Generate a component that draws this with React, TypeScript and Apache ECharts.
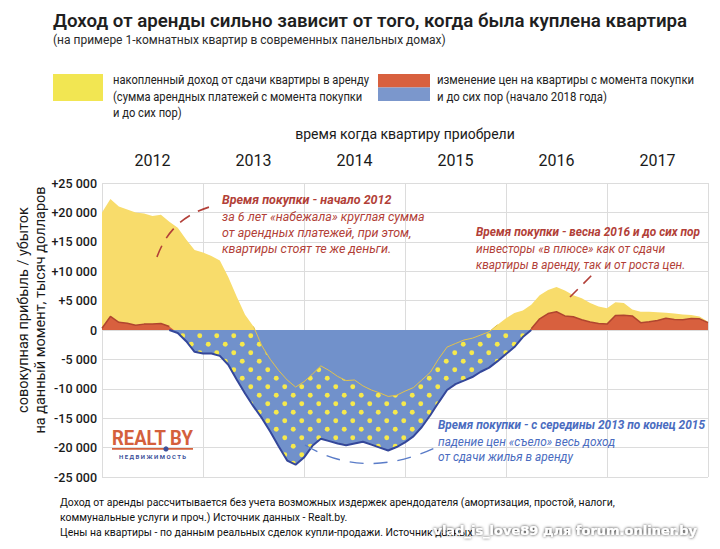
import React, { useEffect, useRef } from "react";
import * as echarts from "echarts";

// Purchase years (category labels on the top axis)
const years = ["2012", "2013", "2014", "2015", "2016", "2017"];

// Month index of purchase: 0 = Jan 2012 ... 72 = Jan 2018
// Change of flat price since purchase, USD (red when > 0, blue when < 0)
const priceChange2012 = [300, 2300, 1300, 1150, 800, 1000, 1000, 1100, 600, -500, -1900, -3700];
const priceChange2013 = [-4000, -4000, -4400, -5900, -8400, -10800, -13000, -15000, -17300, -19800, -22200, -22900];
const priceChange2014 = [-21700, -19700, -18500, -18900, -19300, -19600, -19300, -19000, -19500, -20000, -20500, -19900];
const priceChange2015 = [-19100, -18100, -16500, -14500, -12300, -10200, -9200, -8600, -8000, -7100, -6400, -5300];
const priceChange2016 = [-4100, -2900, -1200, 200, 1900, 2800, 3100, 2400, 2250, 1750, 1350, 1100];
const priceChange2017 = [1000, 2450, 2500, 2400, 1250, 1400, 1600, 2000, 1800, 1750, 1950, 1900];
const priceChange2018 = [1250];

// Total result = price change + accumulated rent income, USD
const total2012 = [20000, 22300, 21000, 20500, 20000, 19800, 19400, 19600, 18400, 17400, 15400, 13600];
const total2013 = [13200, 12600, 11800, 9000, 5700, 2600, 600, -2700, -5000, -6900, -8500, -9700];
const total2014 = [-8800, -7500, -6100, -6900, -7900, -8600, -8500, -9500, -10200, -10700, -11300, -11100];
const total2015 = [-10400, -9800, -8500, -7200, -4900, -2900, -2300, -1700, -1400, -850, -300, 900];
const total2016 = [2000, 2900, 3300, 4300, 5900, 6800, 7300, 6700, 5900, 5400, 4600, 4000];
const total2017 = [3700, 4700, 4600, 3500, 3100, 3100, 3000, 2950, 2800, 2650, 2550, 2300];
const total2018 = [1400];

// Y axis ticks
const yTicks = { min: -25000, max: 25000, step: 5000 };

const priceChange = [
  ...priceChange2012, ...priceChange2013, ...priceChange2014,
  ...priceChange2015, ...priceChange2016, ...priceChange2017, ...priceChange2018,
];
const totalResult = [
  ...total2012, ...total2013, ...total2014,
  ...total2015, ...total2016, ...total2017, ...total2018,
];

const FONT = "Roboto, 'Open Sans', sans-serif";

function fmtTick(v: number): string {
  if (v === 0) return "0";
  const a = Math.abs(v);
  const s = a >= 1000 ? `${Math.floor(a / 1000)} ${String(a % 1000).padStart(3, "0")}` : String(a);
  return (v > 0 ? "+" : "-") + s;
}

function makeDots(): HTMLCanvasElement {
  const c = document.createElement("canvas");
  c.width = 17;
  c.height = 17;
  const ctx = c.getContext("2d")!;
  ctx.fillStyle = "#f6e94c";
  const pts = [
    [4.25, 4.25],
    [12.75, 12.75],
  ];
  for (const [x, y] of pts) {
    ctx.beginPath();
    ctx.arc(x, y, 2.45, 0, Math.PI * 2);
    ctx.fill();
  }
  return c;
}

export default function App() {
  const ref = useRef<HTMLDivElement>(null);

  useEffect(() => {
    if (!ref.current) return;
    const chart = echarts.init(ref.current, undefined, { renderer: "svg" });

    const n = priceChange.length;
    const pNeg = priceChange.map((v) => Math.min(v, 0));
    const tNeg = totalResult.map((v) => Math.min(v, 0));
    const isNegAround = (arr: number[], i: number) =>
      arr[i] < 0 || (i > 0 && arr[i - 1] < 0) || (i < n - 1 && arr[i + 1] < 0);

    const xy = (arr: (number | string)[]) => arr.map((v, i) => [i, v]);

    const dots = makeDots();

    const base = {
      type: "line",
      symbol: "none",
      silent: true,
      xAxisIndex: 0,
      yAxisIndex: 0,
    };

    const textEl = (
      x: number,
      y: number,
      text: string,
      font: string,
      fill: string,
      extra: any = {}
    ) => {
      const { style: extraStyle, align, ...rest } = extra;
      return {
        type: "text",
        x,
        y,
        z: 100,
        silent: true,
        ...rest,
        style: {
          text,
          font,
          fill,
          align: align || "left",
          verticalAlign: "middle",
          textAlign: align || "left",
          textVerticalAlign: "middle",
          ...(extraStyle || {}),
        },
      };
    };

    const red = "#b23f38";
    const blueTxt = "#4a6cc0";
    const annBold = `italic 700 12.5px ${FONT}`;
    const annReg = `italic 400 12.5px ${FONT}`;
    const legFont = `400 12px ${FONT}`;
    const footFont = `400 11px ${FONT}`;
    const sc = (s: number) => ({ scaleX: s });

    const option: any = {
      animation: false,
      backgroundColor: "#ffffff",
      grid: { left: 102, right: 12, top: 183, bottom: 72, containLabel: false },
      xAxis: [
        {
          type: "value",
          min: 0,
          max: 72,
          interval: 12,
          axisLine: { show: false },
          axisTick: { show: false },
          axisLabel: { show: false },
          splitLine: { show: true, lineStyle: { color: "#dcdcdc", width: 1 } },
        },
        {
          type: "category",
          position: "top",
          data: years,
          boundaryGap: true,
          axisLine: { show: false },
          axisTick: { show: false },
          splitLine: { show: false },
          axisLabel: { fontSize: 16, color: "#1a1a1a", margin: 15, fontFamily: FONT, fontWeight: 400 },
        },
      ],
      yAxis: {
        type: "value",
        min: yTicks.min,
        max: yTicks.max,
        interval: yTicks.step,
        axisLine: { show: false },
        axisTick: { show: false },
        splitLine: { show: true, lineStyle: { color: "#dcdcdc", width: 1 } },
        axisLabel: {
          formatter: (v: number) => fmtTick(v),
          fontSize: 12.5,
          color: "#1a1a1a",
          margin: 5,
          fontFamily: FONT,
          fontWeight: 500,
        },
      },
      series: [
        {
          ...base,
          name: "total",
          data: xy(totalResult),
          lineStyle: { width: 0 },
          areaStyle: { color: "#f8dc6b", opacity: 1 },
        },
        {
          ...base,
          name: "priceArea",
          data: xy(priceChange),
          lineStyle: { width: 0 },
          areaStyle: { color: "#d8603e", opacity: 1 },
        },
        {
          ...base,
          name: "blueArea",
          data: xy(pNeg),
          lineStyle: { width: 0 },
          areaStyle: { color: "#7191cb", opacity: 1 },
        },
        {
          ...base,
          name: "dotArea",
          data: xy(pNeg),
          lineStyle: { width: 0 },
          areaStyle: { color: { image: dots, repeat: "repeat" }, opacity: 1 },
        },
        {
          ...base,
          name: "blueAboveTotal",
          data: xy(tNeg),
          lineStyle: { width: 0 },
          areaStyle: { color: "#7191cb", opacity: 1 },
        },
        {
          ...base,
          name: "totalLine",
          data: xy(totalResult.map((v, i) => (isNegAround(totalResult, i) ? v : "-"))),
          connectNulls: false,
          lineStyle: { width: 1, color: "#e2c24c" },
        },
        {
          ...base,
          name: "blueLine",
          data: xy(pNeg.map((v, i) => (isNegAround(priceChange, i) ? v : "-"))),
          connectNulls: false,
          lineStyle: { width: 2, color: "#34479a" },
        },
        {
          ...base,
          name: "redLine",
          data: xy(priceChange.map((v) => (v >= 0 ? v : "-"))),
          connectNulls: false,
          lineStyle: { width: 1.5, color: "#b0452f" },
        },
      ],
      graphic: [
        // Title
        textEl(53, 21, "Доход от аренды сильно зависит от того, когда была куплена квартира", `600 19px ${FONT}`, "#1f1f1f", sc(0.985)),
        textEl(53, 40, "(на примере 1-комнатных квартир в современных панельных домах)", `400 12px ${FONT}`, "#2a2a2a"),
        // Legend
        { type: "rect", z: 100, silent: true, shape: { x: 53, y: 74, width: 50, height: 27 }, style: { fill: "#f2e652" } },
        textEl(113, 80, "накопленный доход от сдачи квартиры в аренду", legFont, "#222", sc(0.93)),
        textEl(113, 97, "(сумма арендных платежей с момента покупки", legFont, "#222", sc(0.93)),
        textEl(113, 113, "и до сих пор)", legFont, "#222", sc(0.93)),
        { type: "rect", z: 100, silent: true, shape: { x: 378, y: 74, width: 52, height: 13.5 }, style: { fill: "#d8603e" } },
        { type: "rect", z: 100, silent: true, shape: { x: 378, y: 87.5, width: 52, height: 13.5 }, style: { fill: "#7b97cc" } },
        textEl(437, 80, "изменение цен на квартиры с момента покупки", legFont, "#222", sc(0.95)),
        textEl(437, 97, "и до сих пор (начало 2018 года)", legFont, "#222", sc(0.95)),
        // Top axis name
        textEl(405, 134, "время когда квартиру приобрели", `400 14px ${FONT}`, "#1a1a1a", { align: "center" }),
        // Y axis name (rotated)
        textEl(23, 310, "совокупная прибыль / убыток", `400 14.5px ${FONT}`, "#1a1a1a", { align: "center", rotation: Math.PI / 2 }),
        textEl(40, 310, "на данный момент, тысяч долларов", `400 14.5px ${FONT}`, "#1a1a1a", { align: "center", rotation: Math.PI / 2 }),
        // Red annotation (start of 2012)
        textEl(222, 199, "Время покупки - начало 2012", annBold, red),
        textEl(222, 216, "за 6 лет «набежала» круглая сумма", annReg, red),
        textEl(222, 232, "от арендных платежей, при этом,", annReg, red),
        textEl(222, 248, "квартиры стоят те же деньги.", annReg, red),
        {
          type: "bezierCurve",
          z: 100,
          silent: true,
          shape: { x1: 157, y1: 257, x2: 217, y2: 205, cpx1: 172, cpy1: 215 },
          style: { stroke: red, lineWidth: 1.6, lineDash: [12, 9], fill: "none" },
        },
        // Red annotation (spring 2016)
        textEl(476, 232, "Время покупки - весна 2016 и до сих пор", annBold, red, sc(0.95)),
        textEl(476, 249, "инвесторы «в плюсе» как от сдачи", annReg, red, sc(0.95)),
        textEl(476, 265, "квартиры в аренду, так и от роста цен.", annReg, red, sc(0.95)),
        {
          type: "line",
          z: 100,
          silent: true,
          shape: { x1: 570, y1: 297, x2: 596, y2: 271 },
          style: { stroke: red, lineWidth: 1.6, lineDash: [11, 8] },
        },
        // Blue annotation
        textEl(438, 425, "Время покупки - с середины 2013 по конец 2015", annBold, blueTxt, sc(0.95)),
        textEl(438, 442, "падение цен «съело» весь доход", annReg, blueTxt, sc(0.95)),
        textEl(438, 457, "от сдачи жилья в аренду", annReg, blueTxt, sc(0.95)),
        {
          type: "bezierCurve",
          z: 100,
          silent: true,
          shape: { x1: 305, y1: 445, x2: 437, y2: 447, cpx1: 365, cpy1: 481 },
          style: { stroke: "#5a7cc8", lineWidth: 1.4, lineDash: [14, 10], fill: "none" },
        },
        // Logo
        textEl(112, 438, "REALT BY", `700 21px ${FONT}`, "#d4603c", sc(0.88)),
        { type: "rect", z: 100, silent: true, shape: { x: 112, y: 448, width: 81, height: 1.8 }, style: { fill: "#d4603c" } },
        { type: "circle", z: 100, silent: true, shape: { cx: 166, cy: 448.9, r: 2.6 }, style: { fill: "#3c4f9a" } },
        textEl(152.5, 456, "Н Е Д В И Ж И М О С Т Ь", `700 6px ${FONT}`, "#3c4f9a", { align: "center" }),
        // Footer
        textEl(60, 502, "Доход от аренды рассчитывается без учета возможных издержек арендодателя (амортизация, простой, налоги,", footFont, "#111", sc(0.95)),
        textEl(60, 517, "коммунальные услуги и проч.) Источник данных - Realt.by.", footFont, "#111", sc(0.95)),
        textEl(60, 532, "Цены на квартиры - по данным реальных сделок купли-продажи. Источник данных", footFont, "#111", sc(0.95)),
        // Watermark
        textEl(697, 530, "vlad_is_love89 для forum.onliner.by", `700 13px 'DejaVu Sans', sans-serif`, "#ffffff", {
          align: "right",
          z: 110,
          style: { textShadowColor: "rgba(0,0,0,0.9)", textShadowBlur: 3, textShadowOffsetX: 0, textShadowOffsetY: 0 },
        }),
      ],
    };

    chart.setOption(option);
    return () => chart.dispose();
  }, []);

  return (
    <div
      ref={ref}
      style={{ position: "absolute", left: 0, top: 0, width: 720, height: 549 }}
    />
  );
}
